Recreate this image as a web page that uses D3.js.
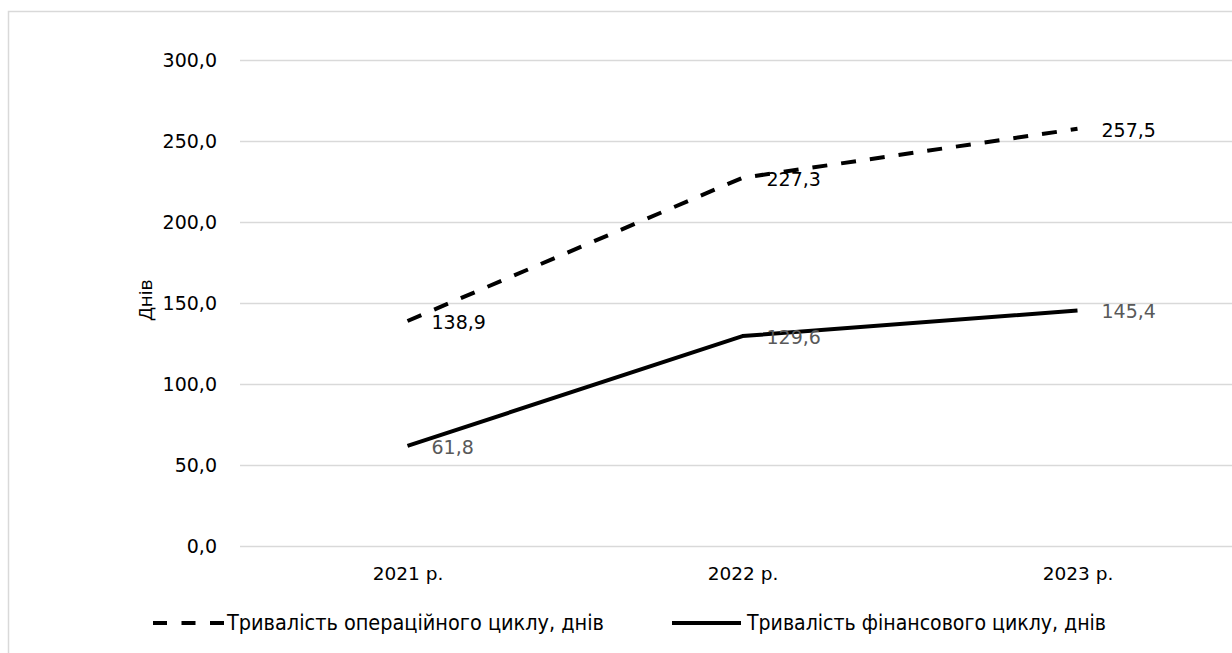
<!DOCTYPE html>
<html><head><meta charset="utf-8">
<script src="https://cdn.jsdelivr.net/npm/d3@7"></script>
<style>body{margin:0;background:#fff}svg{display:block}</style>
</head><body>
<svg id="c" width="1232" height="653"></svg>
<script>
const categories = ["2021 р.", "2022 р.", "2023 р."];
const operatingCycle = [138.9, 227.3, 257.5];
const financialCycle = [61.8, 129.6, 145.4];
const yTicks = [0, 50, 100, 150, 200, 250, 300];
const seriesNames = ["Тривалість операційного циклу, днів", "Тривалість фінансового циклу, днів"];
const yTitle = "Днів";

const svg = d3.select("#c");
const font = "'DejaVu Sans', Verdana, sans-serif";
const fmt = v => d3.format(".1f")(v).replace(".", ",");

svg.append("rect").attr("x", 8.5).attr("y", 11.5).attr("width", 1400).attr("height", 800)
  .attr("fill", "#fff").attr("stroke", "#d9d9d9").attr("stroke-width", 1.5);

const x = d3.scalePoint().domain(categories).range([240, 1245]).padding(0.5);
const y = d3.scaleLinear().domain([0, 300]).range([546, 60]);

// gridlines + y labels via axis
const yAxis = svg.append("g").attr("transform", "translate(240,0)")
  .call(d3.axisLeft(y).tickValues(yTicks).tickFormat(fmt).tickSize(-1005).tickPadding(23));
yAxis.select(".domain").remove();
yAxis.selectAll(".tick line").attr("stroke", "#d9d9d9").attr("stroke-width", 1.6);
yAxis.selectAll(".tick text").attr("font-family", font).attr("font-size", "19px").attr("fill", "#000");

// x labels
const xAxis = svg.append("g").attr("transform", "translate(0,546)")
  .call(d3.axisBottom(x).tickSize(0).tickPadding(21));
xAxis.select(".domain").remove();
xAxis.selectAll(".tick text").attr("font-family", font).attr("font-size", "18.5px").attr("fill", "#000");

// y title
svg.append("text").attr("transform", "translate(152,300) rotate(-90)")
  .attr("text-anchor", "middle").attr("font-family", "'Open Sans', 'Noto Sans', sans-serif")
  .attr("font-size", "19px").attr("fill", "#000").text(yTitle);

const line = d3.line().x((d, i) => x(categories[i])).y(d => y(d));

svg.append("path").datum(operatingCycle).attr("d", line).attr("fill", "none")
  .attr("stroke", "#000").attr("stroke-width", 4).attr("stroke-dasharray", "15,14");
svg.append("path").datum(financialCycle).attr("d", line).attr("fill", "none")
  .attr("stroke", "#000").attr("stroke-width", 4).attr("stroke-linejoin", "round");

function labels(data, color) {
  svg.append("g").selectAll("text").data(data).join("text")
    .attr("x", (d, i) => x(categories[i]) + 24)
    .attr("y", d => y(d) + 1)
    .attr("dominant-baseline", "central")
    .attr("font-family", font).attr("font-size", "19px").attr("fill", color)
    .text(d => fmt(d));
}
labels(operatingCycle, "#000");
labels(financialCycle, "#595959");

// legend
const lg = svg.append("g");
const lgFont = "'Liberation Sans Narrow', 'DejaVu Sans Condensed', sans-serif";
lg.append("line").attr("x1", 153).attr("x2", 224).attr("y1", 623).attr("y2", 623)
  .attr("stroke", "#000").attr("stroke-width", 4).attr("stroke-dasharray", "14,14.5");
lg.append("text").attr("x", 227).attr("y", 630).attr("font-family", lgFont)
  .attr("font-size", "21px").attr("fill", "#000").attr("textLength", 377).attr("lengthAdjust", "spacingAndGlyphs")
  .text(seriesNames[0]);
lg.append("line").attr("x1", 672).attr("x2", 741).attr("y1", 623).attr("y2", 623)
  .attr("stroke", "#000").attr("stroke-width", 4);
lg.append("text").attr("x", 747).attr("y", 630).attr("font-family", lgFont)
  .attr("font-size", "21px").attr("fill", "#000").attr("textLength", 359).attr("lengthAdjust", "spacingAndGlyphs")
  .text(seriesNames[1]);
</script>
</body></html>
